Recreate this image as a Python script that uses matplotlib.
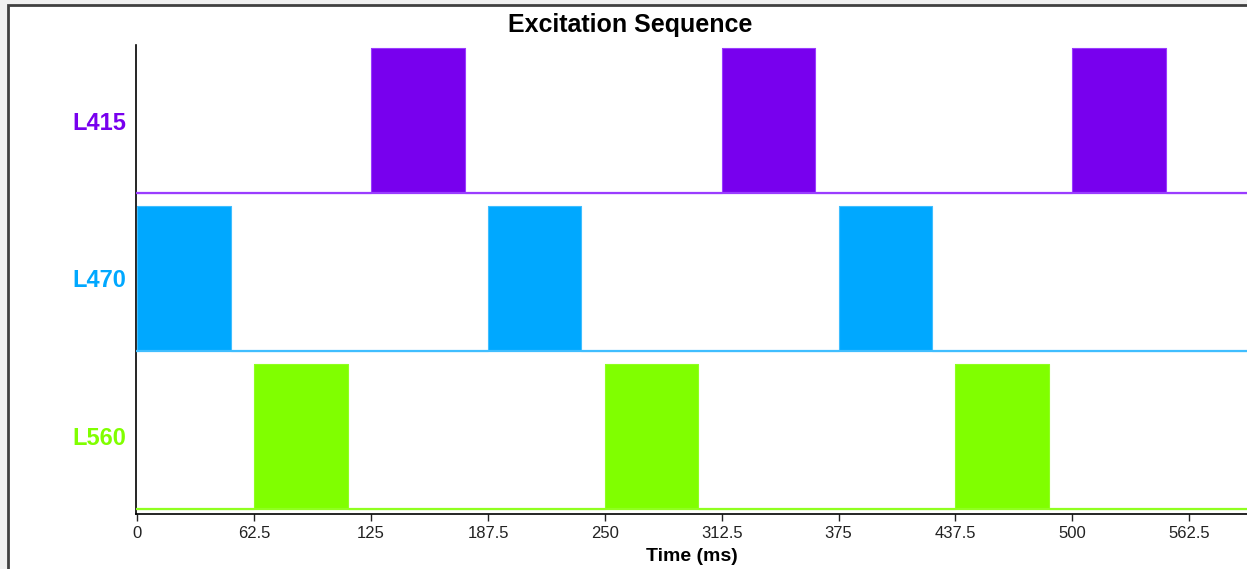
import matplotlib
matplotlib.use('Agg')
import matplotlib.pyplot as plt
import matplotlib.patches as mpatches
import numpy as np

plt.rcParams['font.family'] = ['Liberation Sans', 'DejaVu Sans']

# channels, top to bottom
channels = ['L415', 'L470', 'L560']
fill_colors = ['#7800EE', '#00A8FF', '#80FF00']
edge_colors = ['#9A3CFF', '#40BEFF', '#90FF20']
# pulse start times (ms) per channel
pulse_starts = [
    [125, 312.5, 500],
    [0, 187.5, 375],
    [62.5, 250, 437.5],
]
pulse_width = 50
pulse_height = 0.918
t_max = 593.5
xticks = [0, 62.5, 125, 187.5, 250, 312.5, 375, 437.5, 500, 562.5]
xtick_labels = ['0', '62.5', '125', '187.5', '250', '312.5', '375', '437.5', '500', '562.5']

fig = plt.figure(figsize=(12.47, 5.69), dpi=100)
fig.patch.set_facecolor('#F0F0F0')
# window frame
fig.patches.append(mpatches.Rectangle((8 / 1247, -0.1), 1.1, 1 - 5 / 569 + 0.1,
                                      transform=fig.transFigure, facecolor='white',
                                      edgecolor='#404040', linewidth=2, zorder=-5))

ax = fig.add_axes([136 / 1247, 55 / 569, 1 - 136 / 1247, 469 / 569])
ax.set_facecolor('none')
ax.set_zorder(2)

n = len(channels)
for i, name in enumerate(channels):
    base = n - 1 - i
    # build step signal
    xs = [0]
    ys = [base]
    for s in pulse_starts[i]:
        xs += [s, s, s + pulse_width, s + pulse_width]
        ys += [base, base + pulse_height, base + pulse_height, base]
    xs.append(t_max)
    ys.append(base)
    xs = np.array(xs)
    ys = np.array(ys)
    ax.fill_between(xs, base, ys, color=fill_colors[i], linewidth=0, zorder=2)
    ax.plot(xs, ys, color=edge_colors[i], linewidth=0.8, zorder=3)
    ax.plot([0, t_max], [base, base], color=edge_colors[i], linewidth=1.6, zorder=3)

ax.set_xlim(-0.8, t_max)
ax.set_ylim(-0.032, 2.937)
ax.set_yticks([n - 1 - i + pulse_height / 2 for i in range(n)])
ax.set_yticklabels(channels, fontsize=17, fontweight='bold')
for lbl, c in zip(ax.get_yticklabels(), fill_colors):
    lbl.set_color(c)
ax.tick_params(axis='y', length=0, pad=7)
ax.set_xticks(xticks)
ax.set_xticklabels(xtick_labels, fontsize=12)
ax.tick_params(axis='x', length=5, width=1, pad=4, colors='#222222')

ax.spines['top'].set_visible(False)
ax.spines['right'].set_visible(False)
ax.spines['left'].set_linewidth(1.2)
ax.spines['bottom'].set_linewidth(1.2)

ax.set_xlabel('Time (ms)', fontsize=14, fontweight='bold', labelpad=5)
fig.text(630 / 1247, 1 - 25 / 569, 'Excitation Sequence', ha='center', va='center',
         fontsize=18, fontweight='bold')

fig.savefig('out.png', dpi=100, facecolor=fig.get_facecolor())
